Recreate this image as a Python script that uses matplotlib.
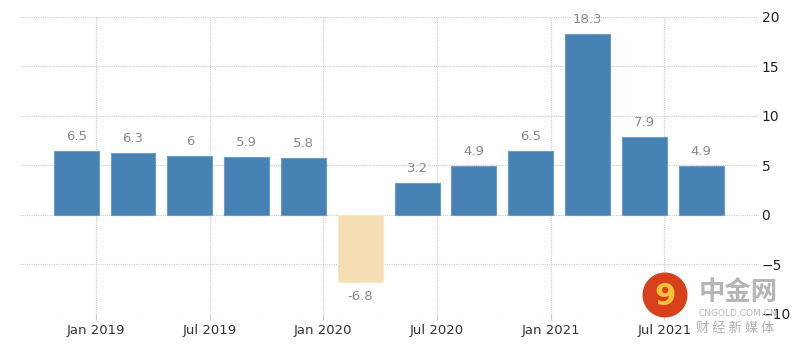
import numpy as np
import matplotlib.pyplot as plt
from matplotlib.patches import Ellipse

# China GDP growth rate, quarterly (as shown)
values = [6.5, 6.3, 6.0, 5.9, 5.8, -6.8, 3.2, 4.9, 6.5, 18.3, 7.9, 4.9]
value_labels = ['6.5', '6.3', '6', '5.9', '5.8', '-6.8', '3.2', '4.9', '6.5', '18.3', '7.9', '4.9']
tick_labels = ['Jan 2019', 'Jul 2019', 'Jan 2020', 'Jul 2020', 'Jan 2021', 'Jul 2021']
y_ticks = [20, 15, 10, 5, 0, -5, -10]

plt.rcParams['font.family'] = ['DejaVu Sans', 'Noto Sans CJK SC']

W, H = 799, 345
fig = plt.figure(figsize=(W / 100, H / 100), dpi=100)
ax = fig.add_axes([0.025, 0.09, 0.923, 0.861])

x = np.arange(len(values))
colors = ['#4682b4' if v >= 0 else '#f5deb3' for v in values]
edges = ['#6a9cc6' if v >= 0 else '#f8e8c8' for v in values]
ax.bar(x, values, width=0.79, color=colors, edgecolor=edges, linewidth=0.8, zorder=3)

for xi, v, lab in zip(x, values, value_labels):
    if v >= 0:
        ax.text(xi, v + 0.8, lab, ha='center', va='bottom', fontsize=9.5, color='#8a8a8a')
    else:
        ax.text(xi, v - 0.8, lab, ha='center', va='top', fontsize=9.5, color='#8a8a8a')

# tick positions: month starts relative to quarterly bar centres
tick_pos = [0.35 + 2 * k for k in range(len(tick_labels))]
ax.set_xticks(tick_pos)
ax.set_xticklabels(tick_labels, fontsize=9.5, color='#333333')
ax.set_xlim(-0.99, 11.99)
ax.set_ylim(-10, 20)
ax.set_yticks(y_ticks)
ax.yaxis.tick_right()
ax.tick_params(axis='y', length=0, labelsize=10, colors='#222222', pad=3)
ax.tick_params(axis='x', length=4, color='#cccccc', pad=3)

ax.grid(True, color='#cccccc', linestyle=(0, (1, 1)), linewidth=0.8, zorder=0)
for s in ax.spines.values():
    s.set_visible(False)

# watermark
cx, cy = 665 / W, 1 - 295 / H
logo = Ellipse((cx, cy), 45 / W, 45 / H, transform=fig.transFigure,
               facecolor='#d8401c', edgecolor='none', zorder=10)
fig.patches.append(logo)
fig.text(cx, cy - 0.005, '9', fontsize=22, color='#f7c23a', ha='center', va='center',
         fontweight='bold', zorder=11)
fig.text(738 / W, 1 - 292 / H, '中金网', fontsize=19, color='#b5b5b5', ha='center', va='center',
         fontweight='bold', family=['Noto Sans CJK SC'])
fig.text(738 / W, 1 - 314 / H, 'CNGOLD.COM.CN', fontsize=6.5, color='#b5b5b5', ha='center',
         va='center')
fig.text(735 / W, 1 - 328 / H, '财 经 新 媒 体', fontsize=9.5, color='#b0b0b0', ha='center',
         va='center', family=['Noto Sans CJK SC'])

fig.savefig('out.png', dpi=100)
